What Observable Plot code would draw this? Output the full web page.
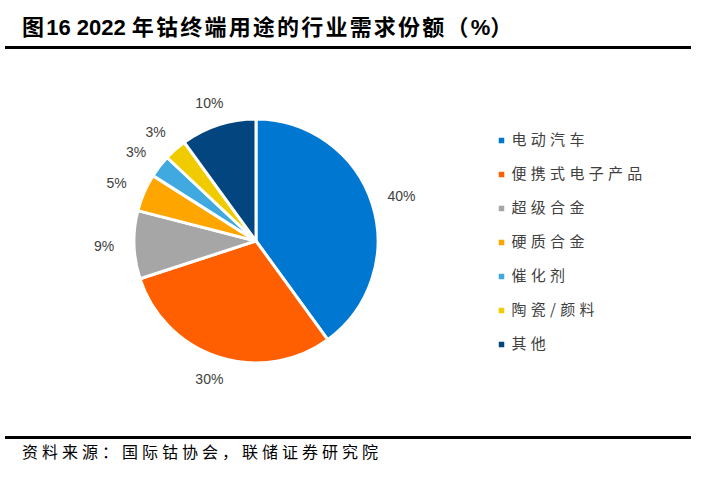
<!DOCTYPE html>
<html><head><meta charset="utf-8">
<script src="https://cdn.jsdelivr.net/npm/d3@7"></script>
<script src="https://cdn.jsdelivr.net/npm/@observablehq/plot@0.6"></script>
<style>
body{margin:0;background:#fff;width:701px;height:492px;position:relative;overflow:hidden;font-family:"Noto Sans CJK SC",sans-serif;}
#title{position:absolute;left:22px;top:10px;font-size:22px;font-weight:bold;color:#000;white-space:nowrap;line-height:30px;letter-spacing:2.2px;}
#title .num{font-family:"Liberation Sans",Arial,sans-serif;letter-spacing:0;}
.rule{position:absolute;left:5px;width:686px;height:3px;background:#000;}
#chart{position:absolute;left:0;top:49px;}
#legend{position:absolute;left:490px;top:120px;}
#legend text{letter-spacing:4.3px;}
#source{position:absolute;left:22px;top:439px;font-size:16px;color:#000;letter-spacing:4px;line-height:24px;white-space:nowrap;}
</style></head><body>
<div id="title">图<span class="num">16 2022 </span>年钴终端用途的行业需求份额（<span class="num">%</span>）</div>
<div class="rule" style="top:46px"></div>
<div id="chart"></div>
<div id="legend"></div>
<div class="rule" style="top:436px"></div>
<div id="source">资料来源：国际钴协会，联储证券研究院</div>
<script>
const categories = ["电动汽车", "便携式电子产品", "超级合金", "硬质合金", "催化剂", "陶瓷/颜料", "其他"];
const shares = [40, 30, 9, 5, 3, 3, 10];
const colors = ["#0077D0", "#FF5F00", "#A6A6A6", "#FFA500", "#40A9E0", "#F0CB00", "#02457F"];

const rows = categories.map((name, i) => ({name, value: shares[i]}));
const colorScale = Plot.scale({color: {type: "ordinal", domain: categories, range: colors}});
const slices = d3.pie().sort(null).value(d => d.value)(rows);
const mid = d => (d.startAngle + d.endAngle) / 2;
const LRX = 1.25, LRY = 1.19;

function arcMark(index, scales) {
  const sc = (scales && typeof scales.x === "function") ? scales : index;
  const cx = sc.x(0), cy = sc.y(0), r = sc.x(1) - sc.x(0);
  const arc = d3.arc().innerRadius(0).outerRadius(r);
  const g = d3.create("svg:g").attr("transform", `translate(${cx},${cy})`);
  g.selectAll("path").data(slices).join("path")
    .attr("d", arc)
    .attr("fill", d => colorScale.apply(d.data.name))
    .attr("stroke", "#fff").attr("stroke-width", 3).attr("stroke-linejoin", "round");
  return g.node();
}

const chart = Plot.plot({
  width: 480, height: 388, margin: 0,
  style: {fontFamily: "'Liberation Sans', Arial, sans-serif", background: "transparent"},
  x: {type: "linear", domain: [-1, 1], range: [134, 378], axis: null},
  y: {type: "linear", domain: [-1, 1], range: [314, 70], axis: null},
  marks: [
    arcMark,
    Plot.text(slices, {
      x: d => LRX * Math.sin(mid(d)),
      y: d => LRY * Math.cos(mid(d)),
      text: d => d.data.value + "%",
      fontSize: 14, fill: "#404040"
    })
  ]
});
document.getElementById("chart").appendChild(chart);

const legend = Plot.plot({
  width: 200, height: 240, margin: 0,
  style: {fontFamily: "'Noto Sans CJK SC', sans-serif", background: "transparent"},
  x: {type: "linear", domain: [0, 1], range: [11, 200], axis: null},
  y: {type: "point", domain: categories, range: [19, 225], padding: 0, axis: null},
  color: {domain: categories, range: colors},
  marks: [
    Plot.dot(categories, {x: () => 0, y: d => d, fill: d => d, symbol: "square", r: 3.1}),
    Plot.text(categories, {x: () => 0, y: d => d, text: d => d, dx: 10, textAnchor: "start", fontSize: 15, fill: "#404040"})
  ]
});
document.getElementById("legend").appendChild(legend);
</script>
</body></html>
